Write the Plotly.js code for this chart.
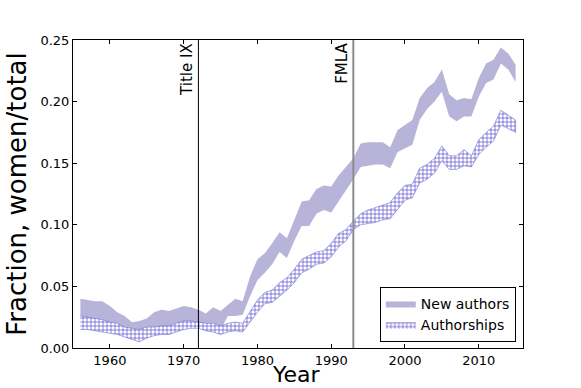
<!DOCTYPE html>
<html>
<head>
<meta charset="utf-8">
<script src="https://cdn.plot.ly/plotly-3.0.1.min.js"></script>
<style>html,body{margin:0;padding:0;background:#fff;}#chart{width:581px;height:388px;}</style>
</head>
<body>
<div id="chart"></div>
<script>
const years = [1956,1957,1958,1959,1960,1961,1962,1963,1964,1965,1966,1967,1968,1969,1970,1971,1972,1973,1974,1975,1976,1977,1978,1979,1980,1981,1982,1983,1984,1985,1986,1987,1988,1989,1990,1991,1992,1993,1994,1995,1996,1997,1998,1999,2000,2001,2002,2003,2004,2005,2006,2007,2008,2009,2010,2011,2012,2013,2014,2015];

const newAuthorsHigh = [0.040,0.039,0.038,0.038,0.034,0.029,0.026,0.021,0.022,0.024,0.029,0.031,0.030,0.032,0.034,0.033,0.031,0.028,0.033,0.030,0.035,0.040,0.038,0.058,0.072,0.077,0.085,0.094,0.089,0.104,0.119,0.120,0.129,0.132,0.131,0.140,0.147,0.154,0.166,0.167,0.167,0.167,0.163,0.177,0.181,0.185,0.203,0.211,0.216,0.226,0.206,0.201,0.203,0.202,0.219,0.231,0.234,0.244,0.239,0.230];
const newAuthorsLow = [0.022,0.021,0.020,0.019,0.017,0.016,0.013,0.012,0.011,0.013,0.013,0.014,0.014,0.016,0.018,0.018,0.017,0.016,0.016,0.015,0.026,0.026,0.027,0.042,0.055,0.061,0.068,0.078,0.073,0.087,0.099,0.099,0.109,0.112,0.110,0.120,0.128,0.137,0.147,0.148,0.149,0.149,0.146,0.159,0.162,0.165,0.185,0.194,0.200,0.208,0.188,0.184,0.188,0.188,0.204,0.215,0.218,0.231,0.226,0.216];

const authorshipsHigh = [0.026,0.025,0.024,0.023,0.021,0.020,0.017,0.016,0.015,0.017,0.017,0.018,0.018,0.020,0.022,0.022,0.021,0.020,0.020,0.018,0.020,0.021,0.020,0.030,0.039,0.045,0.047,0.053,0.057,0.064,0.072,0.075,0.078,0.079,0.085,0.093,0.096,0.103,0.109,0.112,0.114,0.116,0.118,0.126,0.132,0.133,0.146,0.149,0.154,0.164,0.156,0.156,0.161,0.156,0.169,0.175,0.180,0.193,0.189,0.185];
const authorshipsLow = [0.015,0.015,0.014,0.013,0.012,0.011,0.009,0.007,0.005,0.008,0.010,0.011,0.011,0.013,0.015,0.016,0.016,0.014,0.013,0.011,0.013,0.014,0.013,0.021,0.029,0.036,0.037,0.042,0.047,0.053,0.061,0.064,0.068,0.069,0.074,0.082,0.087,0.096,0.100,0.101,0.102,0.104,0.105,0.112,0.120,0.122,0.134,0.137,0.142,0.152,0.145,0.145,0.148,0.147,0.157,0.163,0.168,0.181,0.178,0.175];

const eventYears = [1972, 1993];
const eventLabels = ["Title IX", "FMLA"];
const eventColors = ["#000000", "#8c8c8c"];
const eventWidths = [1, 2];

const xTicks = [1960,1970,1980,1990,2000,2010];
const yTicks = [0.00,0.05,0.10,0.15,0.20,0.25];

const xTitle = 'Year';
const yTitle = 'Fraction, women/total';

function band(hi, lo) {
  return {
    x: years.concat(years.slice().reverse()),
    y: hi.concat(lo.slice().reverse())
  };
}

const bNA = band(newAuthorsHigh, newAuthorsLow);
const bAU = band(authorshipsHigh, authorshipsLow);

const FONT = "DejaVu Sans, Bitstream Vera Sans, sans-serif";

const traces = [
  {
    x: bNA.x, y: bNA.y, type: 'scatter', mode: 'lines', fill: 'toself',
    name: 'New authors',
    fillcolor: 'rgb(184,180,217)',
    line: {width: 0, color: 'rgb(184,180,217)'},
    hoverinfo: 'skip'
  },
  {
    x: bAU.x, y: bAU.y, type: 'scatter', mode: 'lines', fill: 'toself',
    name: 'Authorships',
    fillcolor: 'white',
    fillpattern: {shape: '+', size: 4, solidity: 0.3, fgcolor: 'rgb(80,70,200)', bgcolor: 'white', fillmode: 'replace'},
    line: {width: 0.6, color: 'rgb(120,110,215)'},
    hoverinfo: 'skip'
  }
];

const shapes = eventYears.map((yr, i) => ({
  type: 'line', xref: 'x', yref: 'paper', x0: yr, x1: yr, y0: 0, y1: 1,
  line: {color: eventColors[i], width: eventWidths[i]}
}));

const annotations = eventYears.map((yr, i) => ({
  x: yr, xref: 'x', y: 1, yref: 'paper', xanchor: 'right', yanchor: 'top',
  text: eventLabels[i], textangle: -90, showarrow: false,
  font: {family: FONT, size: 15, color: '#000'}, xshift: -1, yshift: -1
}));

annotations.push({
  x: 0.496, xref: 'paper', y: 0, yref: 'paper', xanchor: 'center', yanchor: 'bottom',
  yshift: -40, text: xTitle, showarrow: false, borderpad: 0,
  font: {family: FONT, size: 22, color: '#000'}
});

const layout = {
  width: 581, height: 388,
  margin: {l: 73, r: 58, t: 40, b: 40, pad: 0},
  paper_bgcolor: 'white', plot_bgcolor: 'white',
  font: {family: FONT, color: '#000'},
  showlegend: true,
  legend: {
    x: 0.984, y: 0.02, xanchor: 'right', yanchor: 'bottom',
    bgcolor: 'white', bordercolor: '#000', borderwidth: 1,
    font: {family: FONT, size: 14, color: '#000'},
    tracegroupgap: 0
  },
  xaxis: {
    range: [1955, 2016], tickvals: xTicks, ticktext: xTicks.map(String),
    ticks: 'inside', ticklen: 4, tickcolor: '#000', tickwidth: 1,
    showline: true, linecolor: '#000', linewidth: 1, mirror: 'ticks',
    showgrid: false, zeroline: false,
    tickfont: {family: FONT, size: 13, color: '#000'}
  },
  yaxis: {
    range: [0, 0.25], tickvals: yTicks, ticktext: yTicks.map(v => v.toFixed(2)),
    ticks: 'inside', ticklen: 4, tickcolor: '#000', tickwidth: 1,
    showline: true, linecolor: '#000', linewidth: 1, mirror: 'ticks',
    showgrid: false, zeroline: false,
    tickfont: {family: FONT, size: 13, color: '#000'},
    title: {text: yTitle, font: {family: FONT, size: 26, color: '#000'}, standoff: 6}
  },
  shapes: shapes,
  annotations: annotations
};

Plotly.newPlot('chart', traces, layout, {displayModeBar: false, staticPlot: true});
</script>
</body>
</html>
